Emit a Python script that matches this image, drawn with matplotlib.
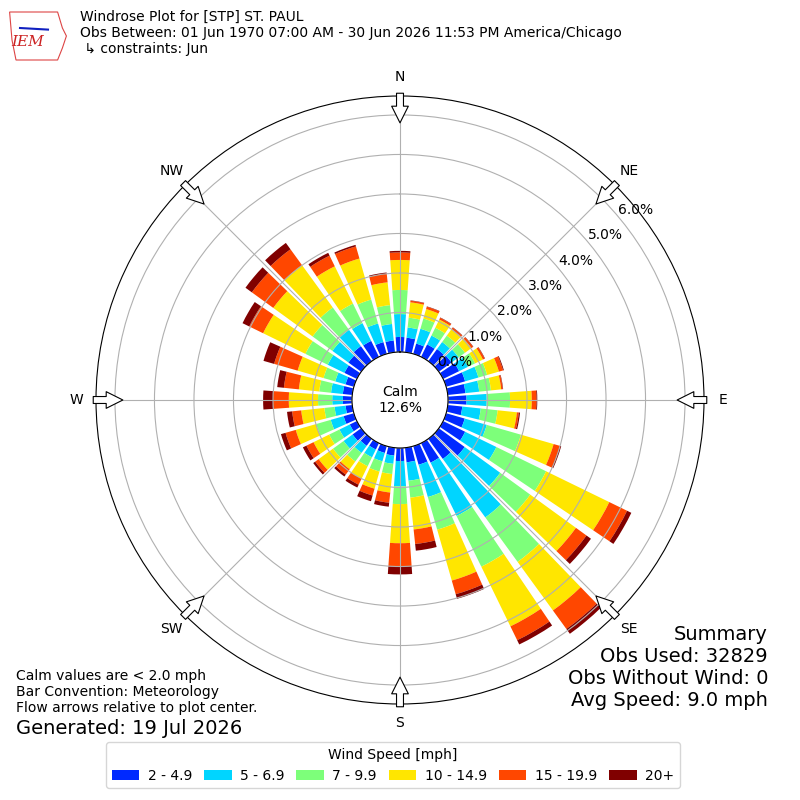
import numpy as np
import matplotlib
matplotlib.use("Agg")
import matplotlib.pyplot as plt
from matplotlib.patches import Patch, Polygon

# wind directions (deg, meteorological) and percent of obs per speed class
directions = np.arange(0, 360, 10)
speed_labels = ["2 - 4.9", "5 - 6.9", "7 - 9.9", "10 - 14.9", "15 - 19.9", "20+"]

pct_2_5 = [0.38, 0.37, 0.27, 0.35, 0.38, 0.40, 0.45, 0.50, 0.45,
           0.47, 0.37, 0.49, 0.62, 0.81, 0.63, 0.55, 0.49, 0.37,
           0.33, 0.20, 0.18, 0.18, 0.22, 0.27, 0.20, 0.27, 0.17,
           0.23, 0.24, 0.22, 0.35, 0.40, 0.47, 0.45, 0.31, 0.30]
pct_5_7 = [0.58, 0.26, 0.39, 0.25, 0.22, 0.22, 0.25, 0.35, 0.35,
           0.51, 0.47, 0.58, 0.88, 1.11, 1.83, 1.50, 0.85, 0.47,
           0.64, 0.21, 0.22, 0.22, 0.22, 0.28, 0.29, 0.34, 0.28,
           0.27, 0.30, 0.27, 0.47, 0.50, 0.51, 0.50, 0.49, 0.42]
pct_7_10 = [0.61, 0.25, 0.27, 0.22, 0.20, 0.20, 0.20, 0.23, 0.30,
            0.59, 0.43, 0.90, 1.40, 0.94, 1.39, 1.43, 0.86, 0.43,
            0.45, 0.26, 0.27, 0.25, 0.27, 0.33, 0.29, 0.38, 0.26,
            0.36, 0.30, 0.31, 0.63, 0.62, 0.70, 0.55, 0.63, 0.48]
pct_10_15 = [0.76, 0.39, 0.25, 0.23, 0.20, 0.20, 0.22, 0.31, 0.26,
             0.55, 0.49, 0.86, 1.78, 1.43, 1.52, 1.68, 1.34, 0.81,
             0.99, 0.47, 0.45, 0.35, 0.24, 0.45, 0.44, 0.54, 0.59,
             0.74, 0.52, 0.68, 1.19, 1.23, 1.32, 1.05, 1.08, 0.58]
pct_15_20 = [0.19, 0.04, 0.06, 0.05, 0.05, 0.05, 0.05, 0.11, 0.04,
             0.12, 0.05, 0.17, 0.50, 0.33, 0.58, 0.39, 0.36, 0.37,
             0.59, 0.26, 0.18, 0.17, 0.17, 0.11, 0.20, 0.27, 0.23,
             0.40, 0.38, 0.62, 0.39, 0.67, 0.50, 0.30, 0.32, 0.22]
pct_20p = [0.04, 0.01, 0.01, 0.01, 0.01, 0.01, 0.01, 0.02, 0.01,
           0.02, 0.03, 0.03, 0.12, 0.14, 0.15, 0.12, 0.12, 0.17,
           0.20, 0.10, 0.15, 0.08, 0.06, 0.06, 0.10, 0.12, 0.13,
           0.25, 0.17, 0.28, 0.19, 0.20, 0.20, 0.08, 0.04, 0.03]

calm_pct = 12.6
compass = ["N", "NE", "E", "SE", "S", "SW", "W", "NW"]

colors = plt.get_cmap("jet")(np.linspace(0, 1, 7)[1:])

fig = plt.figure(figsize=(8, 8), dpi=100)
ax = fig.add_axes([0.12, 0.12, 0.76, 0.76], projection="polar")
ax.set_theta_zero_location("N")
ax.set_theta_direction(-1)
ax.set_rorigin(-1.215)
ax.set_ylim(0, 6.48)

theta = np.deg2rad(directions)
bottom = np.zeros(len(directions))
for vals, color, lbl in zip([pct_2_5, pct_5_7, pct_7_10, pct_10_15, pct_15_20, pct_20p],
                            colors, speed_labels):
    ax.bar(theta, vals, width=np.deg2rad(8), bottom=bottom, color=color,
           label=lbl, align="center")
    bottom = bottom + np.array(vals)

ax.set_xticks(np.deg2rad(np.arange(0, 360, 45)))
ax.set_xticklabels(compass, fontsize=10)
ax.set_rgrids(range(0, 7), labels=["%.1f%%" % v for v in range(0, 7)],
              angle=50, fontsize=10)
ax.grid(True, color="#b0b0b0", lw=0.8)

# flow arrows at the compass points
for ang in np.arange(0, 360, 45):
    th = np.deg2rad(ang)
    ax.annotate("", xy=(th, 5.8), xytext=(th, 6.55),
                arrowprops=dict(arrowstyle="simple,head_length=0.6,head_width=0.6,tail_width=0.25",
                                fc="white", ec="black", lw=0.8, shrinkA=0, shrinkB=0,
                                mutation_scale=20),
                annotation_clip=False)

fig.text(0.5, 0.5, "Calm\n%.1f%%" % calm_pct, ha="center", va="center",
         fontsize=10, multialignment="center")

# header
fig.text(0.1, 0.9875,
         "Windrose Plot for [STP] ST. PAUL\n"
         "Obs Between: 01 Jun 1970 07:00 AM - 30 Jun 2026 11:53 PM America/Chicago\n"
         " \u21b3 constraints: Jun",
         ha="left", va="top", fontsize=10)

# rough IEM logo
logo = Polygon([[0.012, 0.985], [0.072, 0.985], [0.078, 0.965], [0.083, 0.955],
                [0.078, 0.94], [0.072, 0.925], [0.02, 0.925], [0.015, 0.95]],
               closed=True, transform=fig.transFigure, fill=False, ec="#dd4444", lw=0.8)
fig.patches.append(logo)
fig.add_artist(plt.Line2D([0.025, 0.06], [0.965, 0.963], transform=fig.transFigure,
                          color="#1020c0", lw=1.5))
fig.text(0.035, 0.948, "IEM", ha="center", va="center", fontsize=11, color="#cc2222",
         family="DejaVu Serif", style="italic")

# footer notes
fig.text(0.02, 0.164,
         "Calm values are < 2.0 mph\nBar Convention: Meteorology\n"
         "Flow arrows relative to plot center.",
         ha="left", va="top", fontsize=10, linespacing=1.2)
fig.text(0.02, 0.089, "Generated: 19 Jul 2026", ha="left", va="center", fontsize=14)

fig.text(0.96, 0.219,
         "Summary\nObs Used: 32829\nObs Without Wind: 0\nAvg Speed: 9.0 mph",
         ha="right", va="top", fontsize=14, multialignment="right")

handles = [Patch(facecolor=c, label=l) for c, l in zip(colors, speed_labels)]
fig.legend(handles=handles, loc="lower center", bbox_to_anchor=(0.491, 0.006),
           ncol=6, fontsize=10, title="Wind Speed [mph]", title_fontsize=10,
           handletextpad=0.6, columnspacing=0.85)

fig.savefig("out.png", dpi=100)
